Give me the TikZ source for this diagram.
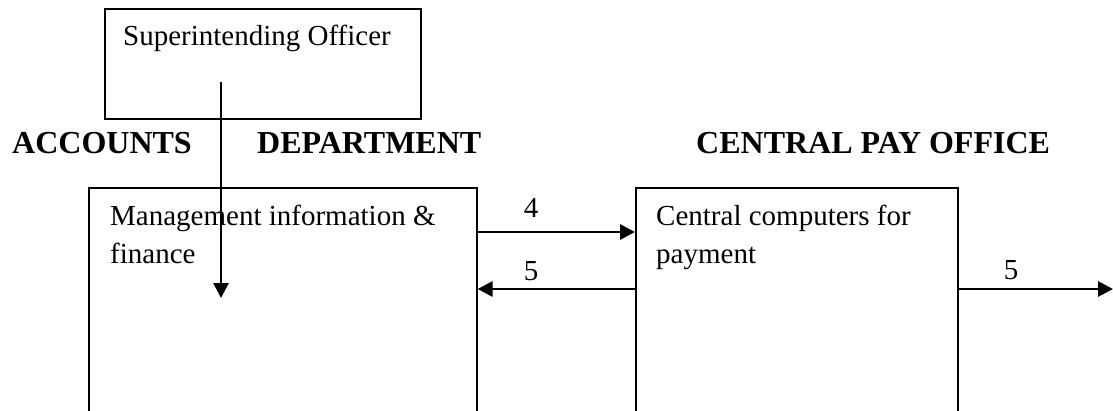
\documentclass[tikz,border=0pt]{standalone}
\usepackage{fontspec}
\setmainfont{Liberation Serif}
\usetikzlibrary{arrows.meta,calc}
\begin{document}
\begin{tikzpicture}[x=1pt,y=-1pt,
  box/.style={draw,line width=1.6pt,rectangle,inner sep=0pt,anchor=north west},
  arr/.style={line width=2.8pt,-{Triangle[length=15pt,width=15pt]}},
  txt/.style={font=\fontsize{29}{38}\selectfont,inner sep=0pt,anchor=base west},
  lbl/.style={font=\fontsize{29}{38}\selectfont,inner sep=0pt,anchor=base},
  head/.style={font=\fontsize{32}{38}\bfseries\selectfont,inner sep=0pt,anchor=base west}]
\useasboundingbox (0,0) rectangle (1113,410);
\clip (0,0) rectangle (1113,410);
% boxes
\node[box,minimum width=316pt,minimum height=110pt] (so) at (104,8) {};
\node[box,minimum width=388pt,minimum height=240pt] (mg) at (88,187) {};
\node[box,minimum width=322pt,minimum height=240pt] (cp) at (635,187) {};
% texts
\node[txt] (sot) at (123,45) {Superintending Officer};
\node[txt] (mgt1) at (110,225) {Management information \&};
\node[txt] (mgt2) at (110,263) {finance};
\node[txt] (cpt1) at (656,225) {Central computers for};
\node[txt] (cpt2) at (656,263) {payment};
\node[head] (h1) at (12,153) {ACCOUNTS};
\node[head] (h2) at (257,153) {DEPARTMENT};
\node[head] (h3) at (696,153) {CENTRAL PAY OFFICE};
% connectors
\coordinate (vs) at (221,82);
\coordinate (ve) at (221,298);
\draw[arr] (vs) -- (ve);
\draw[arr] ($(mg.north east)+(0,45)$) -- ($(cp.north west)+(0,45)$);
\draw[arr] ($(cp.north west)+(0,102)$) -- ($(mg.north east)+(0,102)$);
\coordinate (out) at (1113,289);
\draw[arr] ($(cp.north east)+(0,102)$) -- (out);
\node[lbl] (l4) at (531,217) {4};
\node[lbl] (l5a) at (531,280) {5};
\node[lbl] (l5b) at (1011,279) {5};
\end{tikzpicture}
\end{document}
